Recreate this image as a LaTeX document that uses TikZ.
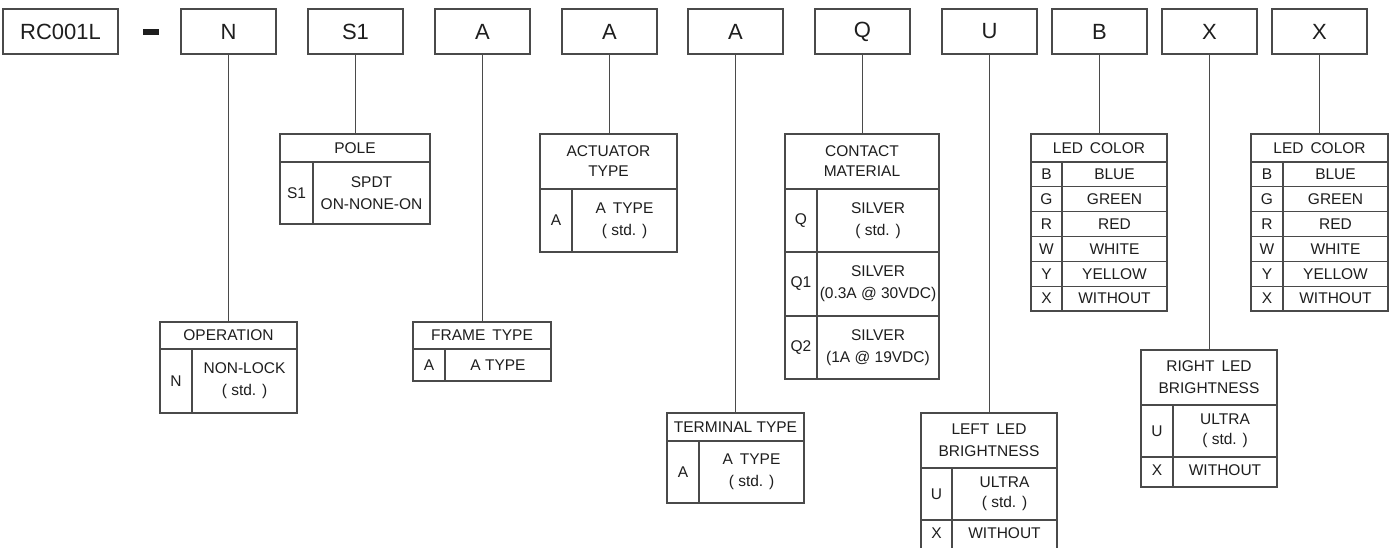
\documentclass[tikz,border=0pt]{standalone}
\usepackage{fontspec}
\setmainfont{Liberation Sans}
\definecolor{ln}{HTML}{4A4A4A}
\definecolor{txt}{HTML}{1E1E1E}
\newcommand{\tfont}{\fontsize{15.5}{22}\selectfont}
\newcommand{\bfontx}{\fontsize{22}{26}\selectfont}
\begin{document}
\begin{tikzpicture}[x=1pt,y=-1pt,
  topbox/.style={draw=ln,line width=1.3pt,minimum width=95pt,minimum height=45pt,inner sep=0pt,font=\bfontx,text=txt},
  tbl/.style={draw=ln,line width=1.2pt},
  conn/.style={draw=ln,line width=1.2pt},
  cell/.style={font=\tfont,align=center,inner sep=0pt,text=txt},
  cellt/.style={font=\fontsize{15.5}{20}\selectfont,align=center,inner sep=0pt,text=txt}]
\useasboundingbox (0,0) rectangle (1394,547);
\clip (0,0) rectangle (1394,547);
\fill[white] (0,0) rectangle (1394,547);

% top row
\node[topbox,minimum width=115pt] (rc) at (60.5,31.5) {RC001L};
\node[fill=txt,minimum width=16pt,minimum height=6pt,inner sep=0pt] (dash) at (151,31.5) {};
\node[topbox] (bN) at (228.5,31.5) {N};
\node[topbox] (bS) at (355.5,31.5) {S1};
\node[topbox] (bA1) at (482.5,31.5) {A};
\node[topbox] (bA2) at (609.5,31.5) {A};
\node[topbox] (bA3) at (735.5,31.5) {A};
\node[topbox] (bQ) at (862.5,31.5) {Q};
\node[topbox] (bU) at (989.5,31.5) {U};
\node[topbox] (bB) at (1099.5,31.5) {B};
\node[topbox] (bX1) at (1209.5,31.5) {X};
\node[topbox] (bX2) at (1319.5,31.5) {X};

% table top coordinates
\coordinate (opT) at (229,322);
\coordinate (poT) at (355,134);
\coordinate (frT) at (482,322);
\coordinate (acT) at (608.5,134);
\coordinate (teT) at (735.5,413);
\coordinate (coT) at (862,134);
\coordinate (llT) at (989,413);
\coordinate (c1T) at (1099,134);
\coordinate (rlT) at (1209,350);
\coordinate (c2T) at (1319.5,134);

\draw[conn] (bN.south) -- (bN.south |- opT);
\draw[conn] (bS.south) -- (bS.south |- poT);
\draw[conn] (bA1.south) -- (bA1.south |- frT);
\draw[conn] (bA2.south) -- (bA2.south |- acT);
\draw[conn] (bA3.south) -- (bA3.south |- teT);
\draw[conn] (bQ.south) -- (bQ.south |- coT);
\draw[conn] (bU.south) -- (bU.south |- llT);
\draw[conn] (bB.south) -- (bB.south |- c1T);
\draw[conn] (bX1.south) -- (bX1.south |- rlT);
\draw[conn] (bX2.south) -- (bX2.south |- c2T);

% OPERATION
\draw[tbl] (160,322) rectangle (297,413);
\draw[tbl] (160,349) -- (297,349) (192,349) -- (192,413);
\node[cell] (opH) at (228.5,335.5) {OPERATION};
\node[cell] (opC) at (176,381) {N};
\node[cell] (opD) at (244.5,381) {NON-LOCK\\( std. )};

% POLE
\draw[tbl] (280,134) rectangle (430,224);
\draw[tbl] (280,162) -- (430,162) (313,162) -- (313,224);
\node[cell] (poH) at (355,148) {POLE};
\node[cell] (poC) at (296.5,193) {S1};
\node[cell] (poD) at (371.5,193) {SPDT\\ON-NONE-ON};

% FRAME TYPE
\draw[tbl] (413,322) rectangle (551,381);
\draw[tbl] (413,349) -- (551,349) (445,349) -- (445,381);
\node[cell] (frH) at (482,335.5) {FRAME\hspace{0.45em}TYPE};
\node[cell] (frC) at (429,365) {A};
\node[cell] (frD) at (498,365) {A TYPE};

% ACTUATOR TYPE
\draw[tbl] (540,134) rectangle (677,252);
\draw[tbl] (540,189) -- (677,189) (572,189) -- (572,252);
\node[cellt] (acH) at (608.5,161.5) {ACTUATOR\\TYPE};
\node[cell] (acC) at (556,220.5) {A};
\node[cell] (acD) at (624.5,220.5) {A\hspace{0.45em}TYPE\\( std. )};

% TERMINAL TYPE
\draw[tbl] (667,413) rectangle (804,503);
\draw[tbl] (667,441) -- (804,441) (699,441) -- (699,503);
\node[cell] (teH) at (735.5,427) {TERMINAL TYPE};
\node[cell] (teC) at (683,472) {A};
\node[cell] (teD) at (751.5,472) {A\hspace{0.45em}TYPE\\( std. )};

% CONTACT MATERIAL
\draw[tbl] (785,134) rectangle (939,379);
\draw[tbl] (785,189) -- (939,189) (785,252) -- (939,252) (785,316) -- (939,316) (817,189) -- (817,379);
\node[cellt] (coH) at (862,161.5) {CONTACT\\MATERIAL};
\node[cell] (coC1) at (801,220.5) {Q};
\node[cell] (coD1) at (878,220.5) {SILVER\\( std. )};
\node[cell] (coC2) at (801,284) {Q1};
\node[cell] (coD2) at (878,284) {SILVER\\(0.3A @ 30VDC)};
\node[cell] (coC3) at (801,347.5) {Q2};
\node[cell] (coD3) at (878,347.5) {SILVER\\(1A @ 19VDC)};

% LED COLOR 1
\draw[tbl] (1031,134) rectangle (1167,311);
\draw[tbl] (1031,162) -- (1167,162) (1062,162) -- (1062,311);
\foreach \k in {1,...,5} {\draw[tbl] (1031,162+24.83*\k) -- (1167,162+24.83*\k);}
\node[cell] (c1H) at (1099,148) {LED\hspace{0.45em}COLOR};
\node[cell] (c1C1) at (1046.5,174.4) {B};
\node[cell] (c1D1) at (1114.5,174.4) {BLUE};
\node[cell] (c1C2) at (1046.5,199.2) {G};
\node[cell] (c1D2) at (1114.5,199.2) {GREEN};
\node[cell] (c1C3) at (1046.5,224.1) {R};
\node[cell] (c1D3) at (1114.5,224.1) {RED};
\node[cell] (c1C4) at (1046.5,248.9) {W};
\node[cell] (c1D4) at (1114.5,248.9) {WHITE};
\node[cell] (c1C5) at (1046.5,273.8) {Y};
\node[cell] (c1D5) at (1114.5,273.8) {YELLOW};
\node[cell] (c1C6) at (1046.5,298.6) {X};
\node[cell] (c1D6) at (1114.5,298.6) {WITHOUT};

% LED COLOR 2
\draw[tbl] (1251,134) rectangle (1388,311);
\draw[tbl] (1251,162) -- (1388,162) (1283,162) -- (1283,311);
\foreach \k in {1,...,5} {\draw[tbl] (1251,162+24.83*\k) -- (1388,162+24.83*\k);}
\node[cell] (c2H) at (1319.5,148) {LED\hspace{0.45em}COLOR};
\node[cell] (c2C1) at (1267,174.4) {B};
\node[cell] (c2D1) at (1335.5,174.4) {BLUE};
\node[cell] (c2C2) at (1267,199.2) {G};
\node[cell] (c2D2) at (1335.5,199.2) {GREEN};
\node[cell] (c2C3) at (1267,224.1) {R};
\node[cell] (c2D3) at (1335.5,224.1) {RED};
\node[cell] (c2C4) at (1267,248.9) {W};
\node[cell] (c2D4) at (1335.5,248.9) {WHITE};
\node[cell] (c2C5) at (1267,273.8) {Y};
\node[cell] (c2D5) at (1335.5,273.8) {YELLOW};
\node[cell] (c2C6) at (1267,298.6) {X};
\node[cell] (c2D6) at (1335.5,298.6) {WITHOUT};

% LEFT LED BRIGHTNESS
\draw[tbl] (921,413) rectangle (1057,551);
\draw[tbl] (921,468) -- (1057,468) (921,520) -- (1057,520) (952,468) -- (952,551);
\node[cell] (llH) at (989,440.5) {LEFT\hspace{0.45em}LED\\BRIGHTNESS};
\node[cellt] (llC1) at (936.5,494) {U};
\node[cellt] (llD1) at (1004.5,494) {ULTRA\\( std. )};
\node[cell] (llC2) at (936.5,533) {X};
\node[cell] (llD2) at (1004.5,533) {WITHOUT};

% RIGHT LED BRIGHTNESS
\draw[tbl] (1141,350) rectangle (1277,487);
\draw[tbl] (1141,405) -- (1277,405) (1141,457) -- (1277,457) (1173,405) -- (1173,487);
\node[cell] (rlH) at (1209,377.5) {RIGHT\hspace{0.45em}LED\\BRIGHTNESS};
\node[cellt] (rlC1) at (1157,431) {U};
\node[cellt] (rlD1) at (1225,431) {ULTRA\\( std. )};
\node[cell] (rlC2) at (1157,470) {X};
\node[cell] (rlD2) at (1225,470) {WITHOUT};
\end{tikzpicture}
\end{document}
